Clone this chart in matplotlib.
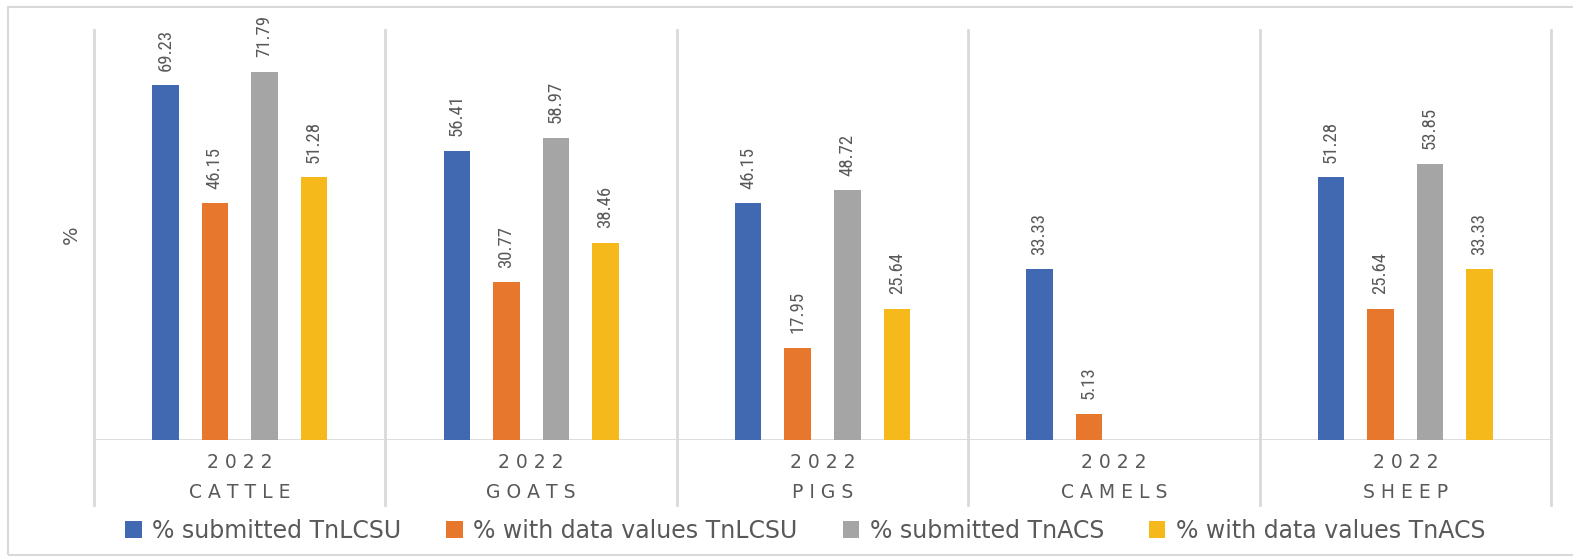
import numpy as np
import matplotlib
matplotlib.use('Agg')
import matplotlib.pyplot as plt
from matplotlib import font_manager
from matplotlib.patches import Rectangle
from matplotlib.transforms import blended_transform_factory

# data
animals = ['CATTLE', 'GOATS', 'PIGS', 'CAMELS', 'SHEEP']
year = '2022'
series = ['% submitted TnLCSU', '% with data values TnLCSU',
          '% submitted TnACS', '% with data values TnACS']
submitted_lcsu = [69.23, 56.41, 46.15, 33.33, 51.28]
values_lcsu = [46.15, 30.77, 17.95, 5.13, 25.64]
submitted_acs = [71.79, 58.97, 48.72, np.nan, 53.85]
values_acs = [51.28, 38.46, 25.64, np.nan, 33.33]

colors = ['#4169B2', '#E8772E', '#A5A5A5', '#F6B91B']
grid_col = '#D9D9D9'
text_col = '#595959'

# narrow face for the rotated value labels, if one is installed
installed = {f.name for f in font_manager.fontManager.ttflist}
narrow = next((n for n in ['Liberation Sans Narrow', 'DejaVu Sans Condensed',
                           'Roboto Condensed', 'Open Sans Condensed']
               if n in installed), None)
label_font = dict(family=narrow, fontsize=13.5) if narrow else \
    dict(family='DejaVu Sans', fontsize=11.5)

fig = plt.figure(figsize=(15.73, 5.58), dpi=100)
W, H = 1573, 558
ax = fig.add_axes([94 / W, 1 - 440 / H, (1551 - 94) / W, (440 - 30) / H])

# outer chart-area border (runs off the right edge like the reference)
fig.patches.append(Rectangle((8 / W, 1 - 555 / H), 1.2, (555 - 7) / H,
                             transform=fig.transFigure, fill=False,
                             edgecolor=grid_col, lw=1.5))

x = np.arange(len(animals))
step, width = 0.17, 0.091
all_series = [submitted_lcsu, values_lcsu, submitted_acs, values_acs]
for k, (vals, name) in enumerate(zip(all_series, series)):
    bars = ax.bar(x + (k - 1.5) * step, vals, width, color=colors[k],
                  label=name, zorder=3)
    for b, v in zip(bars, vals):
        if np.isnan(v):
            continue
        ax.annotate(f'{v:.2f}', (b.get_x() + b.get_width() / 2, v),
                    xytext=(0, 10.5), textcoords='offset points',
                    rotation=90, ha='center', va='bottom',
                    color=text_col, **label_font)

ax.set_xlim(-0.5, len(animals) - 0.5)
ax.set_ylim(0, 80)
for s in ax.spines.values():
    s.set_visible(False)
ax.set_xticks([])
ax.set_yticks([])
ax.axhline(0, color=grid_col, lw=2, zorder=2)

# group separators, reaching down through the category labels
trans = blended_transform_factory(ax.transData, ax.transAxes)
for b in np.arange(len(animals) + 1) - 0.5:
    ax.plot([b, b], [-65 / 410, 1], color=grid_col, lw=2,
            transform=trans, clip_on=False)

for i, name in enumerate(animals):
    ax.text(i, -23 / 410, ' '.join(year), transform=trans,
            ha='center', va='center', fontsize=13.5, color=text_col)
    ax.text(i, -53 / 410, ' '.join(name), transform=trans,
            ha='center', va='center', fontsize=13.5, color=text_col)

ax.set_ylabel('%', fontsize=14, color=text_col)
ax.yaxis.set_label_coords(-13 / 1457, 0.5)

fig.legend(loc='center', bbox_to_anchor=(0.512, 1 - 531 / H), ncol=4,
           frameon=False, fontsize=17, labelcolor=text_col,
           handlelength=0.7, handleheight=0.7, handletextpad=0.45,
           columnspacing=1.9)

fig.savefig('out.png', dpi=100)
